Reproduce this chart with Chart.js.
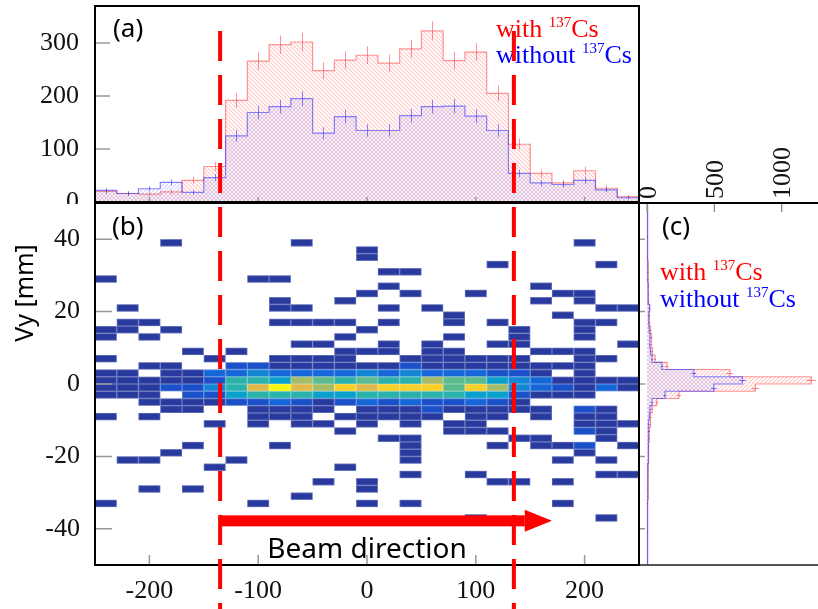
<!DOCTYPE html>
<html lang="en">
<head>
<meta charset="utf-8">
<title>Vy vs Vx</title>
<script src="https://cdn.jsdelivr.net/npm/chart.js@4.4.1/dist/chart.umd.min.js"></script>
<style>
  body { margin: 0; background: #ffffff; }
  #lienzo { position: relative; width: 818px; height: 609px; overflow: hidden; }
  #lienzo canvas { position: absolute; left: 0; top: 0; }
</style>
</head>
<body>
<div id="lienzo">
  <canvas id="graficaA" width="818" height="204"></canvas>
  <canvas id="graficaC" width="818" height="609"></canvas>
  <canvas id="graficaB" width="818" height="609"></canvas>
</div>
<script>
// ===============================
// DATOS
// ===============================

// bins en x (borde inferior, 20 mm)
const binX = [-250, -230, -210, -190, -170, -150, -130, -110, -90, -70, -50, -30, -10,
              10, 30, 50, 70, 90, 110, 130, 150, 170, 190, 210, 230];
const anchoX = 20;

const conCsX = [20, 16, 15, 19, 41, 67, 192, 266, 297, 302, 248, 268, 277,
                262, 289, 323, 267, 283, 205, 109, 54, 36, 59, 26, 10];
const sinCsX = [22, 16, 25, 37, 18, 46, 125, 169, 180, 195, 130, 161, 135,
                135, 163, 180, 181, 162, 135, 54, 36, 33, 41, 23, 8];

// bins en y (borde inferior, 2 mm)
const binY = [-50, -48, -46, -44, -42, -40, -38, -36, -34, -32, -30, -28, -26, -24, -22, -20, -18,
              -16, -14, -12, -10, -8, -6, -4, -2, 0, 2, 4, 6, 8, 10, 12, 14, 16, 18, 20, 22,
              24, 26, 28, 30, 32, 34, 36, 38, 40, 42, 44, 46, 48];
const anchoY = 2;

const conCsY = [3, 2, 3, 2, 3, 4, 4, 5, 6, 7, 7, 8, 9, 10, 11, 12, 14, 16, 18, 22, 27, 38, 72, 237, 805,
                1220, 615, 148, 59, 40, 30, 34, 26, 20, 17, 15, 13, 12, 10, 9, 8, 7, 6, 5, 5, 4, 3, 3, 2, 2];
const sinCsY = [2, 1, 2, 2, 2, 2, 3, 3, 4, 4, 5, 5, 6, 6, 7, 8, 9, 10, 12, 14, 17, 22, 37, 133, 496,
                709, 348, 111, 37, 26, 20, 22, 16, 14, 12, 20, 9, 8, 7, 6, 5, 5, 4, 4, 3, 3, 2, 2, 1, 1];

// mapa 2D: filas (borde inferior en y) y cuentas por bin de x
const mapaY = [38, 36, 34, 32, 30, 28, 26, 24, 22, 20, 18, 16, 14, 12, 10, 8, 6, 4, 2, 0,
               -2, -4, -6, -8, -10, -12, -14, -16, -18, -20, -22, -24, -26, -28, -30, -32, -34, -38];
const mapaCuentas = [
  [0,0,0,1,0,0,0,0,0,1,0,0,0,0,0,0,0,0,0,0,0,0,1,0,0],
  [0,0,0,0,0,0,0,0,0,0,0,0,1,0,0,0,0,0,0,0,0,0,0,0,0],
  [0,0,0,0,0,0,0,0,0,0,0,0,1,0,0,0,0,0,0,0,0,0,0,0,0],
  [0,0,0,0,0,0,0,0,0,0,0,0,0,0,0,0,0,0,1,0,0,0,0,1,0],
  [0,0,0,0,0,0,0,0,0,0,0,0,0,1,1,0,0,0,0,0,0,0,0,0,0],
  [1,0,0,0,0,0,0,1,1,0,0,0,0,0,0,0,0,0,0,0,0,0,0,0,0],
  [0,0,0,0,0,0,0,0,0,0,0,0,0,1,0,0,0,0,0,0,1,0,0,0,0],
  [0,0,0,0,0,0,0,0,0,0,0,0,1,0,1,0,0,1,0,0,0,1,1,0,0],
  [0,0,0,0,0,0,0,0,1,0,0,1,0,0,0,0,0,0,0,0,1,0,1,0,0],
  [0,1,0,0,0,0,0,0,1,1,0,0,0,1,0,1,0,0,0,0,0,0,0,1,1],
  [0,0,0,0,0,0,0,0,0,0,0,0,0,0,0,0,1,0,0,0,0,1,0,0,0],
  [0,1,1,0,0,0,0,0,1,1,1,1,0,1,0,0,1,0,1,0,0,0,1,1,0],
  [1,1,0,1,0,0,0,0,0,0,0,0,1,0,0,0,0,0,0,1,0,0,1,0,0],
  [1,0,1,0,0,0,0,0,0,0,0,1,0,0,0,0,1,0,0,1,0,0,1,0,0],
  [0,0,0,0,0,0,0,0,0,1,1,0,0,1,0,1,0,0,1,1,0,0,0,0,1],
  [0,0,0,0,1,0,1,0,0,0,0,1,1,1,0,1,1,0,0,0,1,1,1,0,0],
  [1,0,0,0,0,1,0,0,1,1,1,1,0,0,1,1,1,1,1,1,0,0,1,1,0],
  [0,0,1,1,0,0,2,2,1,1,1,1,1,1,2,1,1,1,1,1,1,1,1,0,0],
  [1,1,0,1,1,3,3,4,3,3,3,3,4,3,4,3,3,3,2,2,1,0,1,0,0],
  [1,1,1,1,1,2,6,6,5,8,7,6,7,6,6,8,7,7,5,4,3,1,1,1,1],
  [1,1,1,2,2,4,6,9,11,9,8,10,9,10,10,10,7,10,8,4,3,2,1,3,1],
  [1,1,1,0,2,2,5,6,6,6,5,5,6,6,6,6,6,5,5,2,1,1,1,0,0],
  [0,0,1,1,1,1,2,2,3,2,1,2,3,2,3,2,2,3,2,1,0,0,0,0,0],
  [0,0,0,1,1,0,0,1,1,1,1,0,1,1,1,2,1,1,1,1,1,0,2,1,0],
  [1,0,1,0,0,0,0,1,1,1,0,1,1,1,1,1,0,1,1,0,1,0,1,1,0],
  [0,0,0,0,0,1,0,1,0,1,1,0,1,0,1,0,1,1,0,0,0,0,1,1,1],
  [0,0,0,0,0,0,0,0,0,0,0,1,0,0,0,0,1,1,1,0,0,0,2,1,0],
  [0,0,0,0,0,0,0,0,0,0,0,0,0,1,1,0,0,0,0,1,1,0,0,1,0],
  [0,0,0,0,1,0,0,0,1,0,0,0,0,0,1,0,0,0,1,0,1,1,2,0,1],
  [0,0,0,1,0,0,0,0,0,0,0,0,0,0,1,0,0,0,0,0,0,0,1,0,0],
  [0,1,1,0,0,0,1,0,0,0,0,0,0,0,1,0,0,0,0,0,0,1,0,1,0],
  [0,0,0,0,0,1,0,0,0,0,0,1,0,0,0,0,0,0,0,0,0,0,0,0,0],
  [0,0,0,0,0,0,0,0,0,0,0,0,0,0,1,0,0,1,0,0,0,0,0,1,1],
  [0,0,0,0,0,0,0,0,0,0,1,0,1,0,0,0,0,0,1,1,0,1,0,0,0],
  [0,0,1,0,1,0,0,0,0,0,0,0,1,0,0,0,0,0,0,0,0,0,0,0,0],
  [0,0,0,0,0,0,0,0,0,1,0,0,0,0,0,0,0,0,0,0,0,0,0,0,0],
  [1,0,0,0,0,0,0,1,0,0,0,0,1,0,1,0,0,0,0,0,0,1,0,0,0],
  [0,0,0,0,0,0,0,0,0,0,0,0,0,0,0,0,0,1,0,0,0,0,0,1,0]
];

// paleta por cuenta (1..11)
const paleta = ['#283a9e', '#1a50c8', '#1566d8', '#1484d4', '#0aa0cc', '#2ab2aa',
                '#5cbb8e', '#a4bb6a', '#dcbb4c', '#f9cf2c', '#f9f90e'];

// ejes
const ticksYa = [0, 100, 200, 300];
const ticksXb = [-200, -100, 0, 100, 200];
const ticksYb = [-40, -20, 0, 20, 40];
const ticksXc = [0, 500, 1000];

// cortes y flecha
const cortesX = [-135, 135];
const flechaX = [-136, 145, 170];
const flechaY = -37.8;

const leyendaTextos = ['with', 'without'];
const leyendaColores = ['#ff0000', '#0000ff'];
const isotopo = '137';
const elemento = 'Cs';

const serif = '"Liberation Serif", "Times New Roman", serif';
const sans = '"Noto Sans", "Open Sans", sans-serif';

// ===============================
// AYUDAS
// ===============================

function patronRayado(ctx, color, sentido) {
    const t = 4;
    const c = document.createElement('canvas');
    c.width = t;
    c.height = t;
    const g = c.getContext('2d');
    g.strokeStyle = color;
    g.lineWidth = 1.1;
    g.beginPath();
    for (let k = -1; k <= 1; k++) {
        if (sentido === '/') {
            g.moveTo(k * t, t);
            g.lineTo(k * t + t, 0);
        } else {
            g.moveTo(k * t, 0);
            g.lineTo(k * t + t, t);
        }
    }
    g.stroke();
    return ctx.createPattern(c, 'repeat');
}

function escalonesX(bordes, ancho, valores) {
    const puntos = [];
    valores.forEach((n, i) => {
        puntos.push({ x: bordes[i], y: n }, { x: bordes[i] + ancho, y: n });
    });
    return puntos;
}

function escalonesY(bordes, ancho, valores) {
    const puntos = [];
    valores.forEach((n, i) => {
        puntos.push({ x: n, y: bordes[i] }, { x: n, y: bordes[i] + ancho });
    });
    return puntos;
}

function leyenda(ctx, x, y, salto) {
    leyendaTextos.forEach((palabra, i) => {
        const yy = y + i * salto;
        let w = 0;
        ctx.fillStyle = leyendaColores[i];
        ctx.textAlign = 'left';
        ctx.textBaseline = 'alphabetic';
        ctx.font = '26px ' + serif;
        ctx.fillText(palabra + ' ', x, yy);
        w += ctx.measureText(palabra + ' ').width;
        ctx.font = '15px ' + serif;
        ctx.fillText(isotopo, x + w, yy - 10);
        w += ctx.measureText(isotopo).width;
        ctx.font = '26px ' + serif;
        ctx.fillText(elemento, x + w, yy);
    });
}

function ticksFijos(valores) {
    return s => { s.ticks = valores.map(v => ({ value: v })); };
}

// tamaño fijo del eje, sin relleno extra para las etiquetas
function tamanoFijo(lado, px) {
    return s => {
        s[lado] = px;
        s.paddingTop = 0;
        s.paddingBottom = 0;
        s.paddingLeft = 0;
        s.paddingRight = 0;
    };
}

// ===============================
// (a) PROYECCIÓN EN X
// ===============================

const ctxA = document.getElementById('graficaA').getContext('2d');

const erroresA = {
    id: 'erroresA',
    afterDatasetsDraw(chart) {
        const { ctx, scales: { x, y } } = chart;
        ctx.save();
        ctx.lineWidth = 1;
        [[conCsX, 'rgba(255,40,40,0.5)'], [sinCsX, 'rgba(40,40,255,0.55)']].forEach(([valores, color]) => {
            ctx.strokeStyle = color;
            ctx.beginPath();
            valores.forEach((n, i) => {
                const px = Math.round(x.getPixelForValue(binX[i] + anchoX / 2)) + 0.5;
                const e = Math.sqrt(n);
                ctx.moveTo(px, y.getPixelForValue(n - e));
                ctx.lineTo(px, y.getPixelForValue(n + e));
            });
            ctx.stroke();
        });
        ctx.restore();
    }
};

const marcoA = {
    id: 'marcoA',
    afterDraw(chart) {
        const { ctx, chartArea: a, scales: { x, y } } = chart;
        ctx.save();
        ctx.strokeStyle = '#999';
        ctx.lineWidth = 1.5;
        ctx.beginPath();
        ticksYa.forEach(v => {
            const py = y.getPixelForValue(v);
            ctx.moveTo(a.left, py);
            ctx.lineTo(a.left + 15, py);
        });
        ticksXb.forEach(v => {
            const px = x.getPixelForValue(v);
            ctx.moveTo(px, a.bottom);
            ctx.lineTo(px, a.bottom - 5);
        });
        ctx.stroke();
        ctx.strokeStyle = '#000';
        ctx.lineWidth = 2;
        ctx.strokeRect(a.left, a.top, a.right - a.left, a.bottom - a.top);

        ctx.fillStyle = '#000';
        ctx.font = '26px ' + sans;
        ctx.textBaseline = 'middle';
        ctx.fillText('(a)', 113, 30);
        leyenda(ctx, 496, 37, 26);
        ctx.restore();
    }
};

new Chart(ctxA, {
    type: 'line',
    data: {
        datasets: [
            {
                data: escalonesX(binX, anchoX, sinCsX),
                borderColor: 'rgba(70,70,255,0.65)',
                borderWidth: 1.2,
                backgroundColor: patronRayado(ctxA, 'rgba(90,90,255,0.28)', '/'),
                fill: 'origin'
            },
            {
                data: escalonesX(binX, anchoX, conCsX),
                borderColor: 'rgba(255,80,80,0.6)',
                borderWidth: 1.2,
                backgroundColor: patronRayado(ctxA, 'rgba(255,60,60,0.3)', '\\'),
                fill: 'origin'
            }
        ]
    },
    options: {
        responsive: false,
        animation: false,
        devicePixelRatio: 1,
        elements: { point: { radius: 0 }, line: { tension: 0 } },
        layout: { padding: { left: 0, top: 6, right: 179, bottom: 2 } },
        plugins: { legend: { display: false }, tooltip: { enabled: false } },
        scales: {
            x: { type: 'linear', min: -250, max: 250, display: false },
            y: {
                type: 'linear',
                min: 0,
                max: 370,
                afterFit: tamanoFijo('width', 95),
                afterBuildTicks: ticksFijos(ticksYa),
                grid: { display: false },
                border: { display: false },
                ticks: { padding: 8, color: '#111', font: { family: serif, size: 26 } }
            }
        }
    },
    plugins: [erroresA, marcoA]
});

// ===============================
// (c) PROYECCIÓN EN Y
// ===============================

const ctxC = document.getElementById('graficaC').getContext('2d');

const erroresC = {
    id: 'erroresC',
    afterDatasetsDraw(chart) {
        const { ctx, scales: { x, y } } = chart;
        ctx.save();
        ctx.lineWidth = 1;
        [[conCsY, 'rgba(255,40,40,0.55)'], [sinCsY, 'rgba(40,40,255,0.6)']].forEach(([valores, color]) => {
            ctx.strokeStyle = color;
            ctx.beginPath();
            valores.forEach((n, i) => {
                const py = Math.round(y.getPixelForValue(binY[i] + anchoY / 2)) + 0.5;
                const e = Math.sqrt(n);
                ctx.moveTo(x.getPixelForValue(n - e), py);
                ctx.lineTo(x.getPixelForValue(n + e), py);
            });
            ctx.stroke();
        });
        ctx.restore();
    }
};

const marcoC = {
    id: 'marcoC',
    afterDraw(chart) {
        const { ctx, chartArea: a, scales: { x, y } } = chart;
        ctx.save();
        ctx.strokeStyle = '#999';
        ctx.lineWidth = 1.5;
        ctx.beginPath();
        ticksYb.forEach(v => {
            const py = y.getPixelForValue(v);
            ctx.moveTo(a.left, py);
            ctx.lineTo(a.left + 6, py);
        });
        ticksXc.forEach(v => {
            const px = x.getPixelForValue(v);
            ctx.moveTo(px, a.top);
            ctx.lineTo(px, a.top + 9);
        });
        ctx.stroke();

        ctx.lineWidth = 2;
        ctx.strokeStyle = '#555';
        ctx.beginPath();
        ctx.moveTo(a.left, a.bottom);
        ctx.lineTo(a.right, a.bottom);
        ctx.stroke();
        ctx.strokeStyle = '#000';
        ctx.beginPath();
        ctx.moveTo(a.left, a.bottom);
        ctx.lineTo(a.left, a.top);
        ctx.lineTo(a.right, a.top);
        ctx.stroke();

        // etiquetas del eje superior, giradas
        ctx.fillStyle = '#111';
        ctx.font = '26px ' + serif;
        ctx.textAlign = 'left';
        ctx.textBaseline = 'middle';
        ticksXc.forEach(v => {
            ctx.save();
            ctx.translate(x.getPixelForValue(v) + 2, a.top - 4);
            ctx.rotate(-Math.PI / 2);
            ctx.fillText(String(v), 0, 0);
            ctx.restore();
        });

        ctx.fillStyle = '#000';
        ctx.font = '26px ' + sans;
        ctx.fillText('(c)', 662, 228);
        leyenda(ctx, 660, 280, 27);
        ctx.restore();
    }
};

new Chart(ctxC, {
    type: 'line',
    data: {
        datasets: [
            {
                data: escalonesY(binY, anchoY, sinCsY),
                borderColor: 'rgba(70,70,255,0.65)',
                borderWidth: 1.2,
                backgroundColor: patronRayado(ctxC, 'rgba(90,90,255,0.28)', '\\'),
                fill: 'origin'
            },
            {
                data: escalonesY(binY, anchoY, conCsY),
                borderColor: 'rgba(255,80,80,0.6)',
                borderWidth: 1.2,
                backgroundColor: patronRayado(ctxC, 'rgba(255,60,60,0.3)', '/'),
                fill: 'origin'
            }
        ]
    },
    options: {
        indexAxis: 'y',
        responsive: false,
        animation: false,
        devicePixelRatio: 1,
        elements: { point: { radius: 0 }, line: { tension: 0 } },
        layout: { padding: { left: 639, top: 0, right: 0, bottom: 44 } },
        plugins: { legend: { display: false }, tooltip: { enabled: false } },
        scales: {
            x: {
                type: 'linear',
                position: 'top',
                min: -60,
                max: 1270,
                afterFit: tamanoFijo('height', 203),
                afterBuildTicks: ticksFijos(ticksXc),
                grid: { display: false },
                border: { display: false },
                ticks: { display: false }
            },
            y: { type: 'linear', min: -50, max: 50, display: false }
        }
    },
    plugins: [erroresC, marcoC]
});

// ===============================
// (b) MAPA 2D
// ===============================

const ctxB = document.getElementById('graficaB').getContext('2d');

const mapaPlugin = {
    id: 'mapa',
    beforeDatasetsDraw(chart) {
        const { ctx, scales: { x, y } } = chart;
        ctx.save();
        mapaCuentas.forEach((fila, j) => {
            const y0 = y.getPixelForValue(mapaY[j] + anchoY);
            const y1 = y.getPixelForValue(mapaY[j]);
            fila.forEach((n, i) => {
                if (!n) return;
                const x0 = x.getPixelForValue(binX[i]);
                const x1 = x.getPixelForValue(binX[i] + anchoX);
                ctx.fillStyle = paleta[Math.min(n, paleta.length) - 1];
                ctx.fillRect(x0, y0, x1 - x0, y1 - y0);
                ctx.strokeStyle = 'rgba(255,255,255,0.25)';
                ctx.lineWidth = 0.8;
                ctx.strokeRect(x0 + 0.4, y0 + 0.4, x1 - x0 - 0.8, y1 - y0 - 0.8);
            });
        });
        ctx.restore();
    }
};

const marcoB = {
    id: 'marcoB',
    afterDraw(chart) {
        const { ctx, chartArea: a, scales: { x, y } } = chart;
        ctx.save();
        ctx.strokeStyle = '#999';
        ctx.lineWidth = 1.5;
        ctx.beginPath();
        ticksYb.forEach(v => {
            const py = y.getPixelForValue(v);
            ctx.moveTo(a.left, py);
            ctx.lineTo(a.left + 17, py);
        });
        ticksXb.forEach(v => {
            const px = x.getPixelForValue(v);
            ctx.moveTo(px, a.bottom);
            ctx.lineTo(px, a.bottom - 10);
        });
        ctx.stroke();
        ctx.strokeStyle = '#000';
        ctx.lineWidth = 2;
        ctx.strokeRect(a.left, a.top, a.right - a.left, a.bottom - a.top);

        // cortes en x
        ctx.strokeStyle = '#ff0000';
        ctx.lineWidth = 4;
        ctx.setLineDash([30, 14]);
        ctx.beginPath();
        cortesX.forEach(v => {
            const px = x.getPixelForValue(v);
            ctx.moveTo(px, 31);
            ctx.lineTo(px, 609);
        });
        ctx.stroke();
        ctx.setLineDash([]);

        // flecha del haz
        const fy = y.getPixelForValue(flechaY);
        const fx0 = x.getPixelForValue(flechaX[0]);
        const fx1 = x.getPixelForValue(flechaX[1]);
        const fx2 = x.getPixelForValue(flechaX[2]);
        ctx.fillStyle = '#ff0000';
        ctx.fillRect(fx0, fy - 5.5, fx1 - fx0, 11);
        ctx.beginPath();
        ctx.moveTo(fx1, fy - 11);
        ctx.lineTo(fx2, fy);
        ctx.lineTo(fx1, fy + 11);
        ctx.closePath();
        ctx.fill();

        ctx.fillStyle = '#000';
        ctx.font = '28px ' + sans;
        ctx.textAlign = 'center';
        ctx.textBaseline = 'alphabetic';
        ctx.fillText('Beam direction', x.getPixelForValue(0), y.getPixelForValue(-48));

        ctx.textAlign = 'left';
        ctx.textBaseline = 'middle';
        ctx.font = '26px ' + sans;
        ctx.fillText('(b)', 112, 228);

        ctx.save();
        ctx.translate(26, 293);
        ctx.rotate(-Math.PI / 2);
        ctx.textAlign = 'center';
        ctx.font = '25px ' + sans;
        ctx.fillText('Vy [mm]', 0, 0);
        ctx.restore();

        ctx.restore();
    }
};

new Chart(ctxB, {
    type: 'scatter',
    data: { datasets: [] },
    options: {
        responsive: false,
        animation: false,
        devicePixelRatio: 1,
        layout: { padding: { left: 0, top: 203, right: 179, bottom: 0 } },
        plugins: { legend: { display: false }, tooltip: { enabled: false } },
        scales: {
            x: {
                type: 'linear',
                min: -250,
                max: 250,
                afterFit: tamanoFijo('height', 44),
                afterBuildTicks: ticksFijos(ticksXb),
                grid: { display: false },
                border: { display: false },
                ticks: { padding: 3, color: '#111', font: { family: serif, size: 26 } }
            },
            y: {
                type: 'linear',
                min: -50,
                max: 50,
                afterFit: tamanoFijo('width', 95),
                afterBuildTicks: ticksFijos(ticksYb),
                grid: { display: false },
                border: { display: false },
                ticks: { padding: 7, color: '#111', font: { family: serif, size: 26 } }
            }
        }
    },
    plugins: [mapaPlugin, marcoB]
});
</script>
</body>
</html>
